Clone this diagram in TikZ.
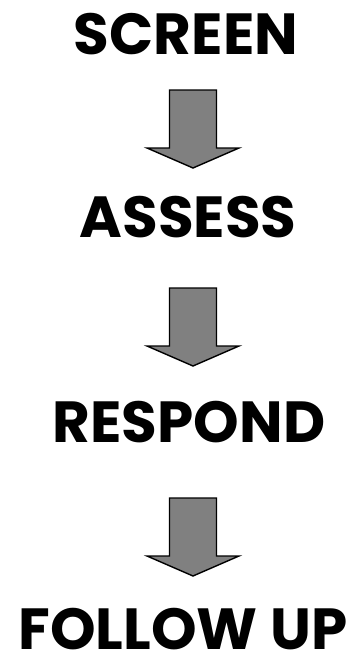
\documentclass[tikz,border=0pt]{standalone}
\usepackage{fontspec}
\setmainfont{Poppins}
\usetikzlibrary{positioning}
\definecolor{blockgray}{RGB}{128,128,128}
\tikzset{
  step label/.style={font=\fontsize{58}{58}\selectfont\bfseries, inner sep=0pt, anchor=base},
  down block/.style={fill=blockgray, draw=black, line width=1.4pt, line join=miter}
}
\newcommand{\downblock}[2]{% #1 = centre x, #2 = top y
  \draw[down block] (#1-23.5,#2) -- (#1+23.5,#2) -- (#1+23.5,#2+58) -- (#1+46,#2+58)
    -- (#1,#2+78) -- (#1-46,#2+58) -- (#1-23.5,#2+58) -- cycle;
}
\begin{document}
\begin{tikzpicture}[x=1pt,y=-1pt]
  \useasboundingbox (0,0) rectangle (360,661);
  % the four steps
  \node[step label] (screen) at (186,55) {SCREEN};
  \node[step label] (assess) at (188,237) {ASSESS};
  \node[step label] (respond) at (189,442) {RESPOND};
  \node[step label] (followup) at (183,649) {FOLLOW UP};
  % arrows between the steps
  \downblock{193}{90}
  \downblock{193}{288}
  \downblock{193}{498}
\end{tikzpicture}
\end{document}
